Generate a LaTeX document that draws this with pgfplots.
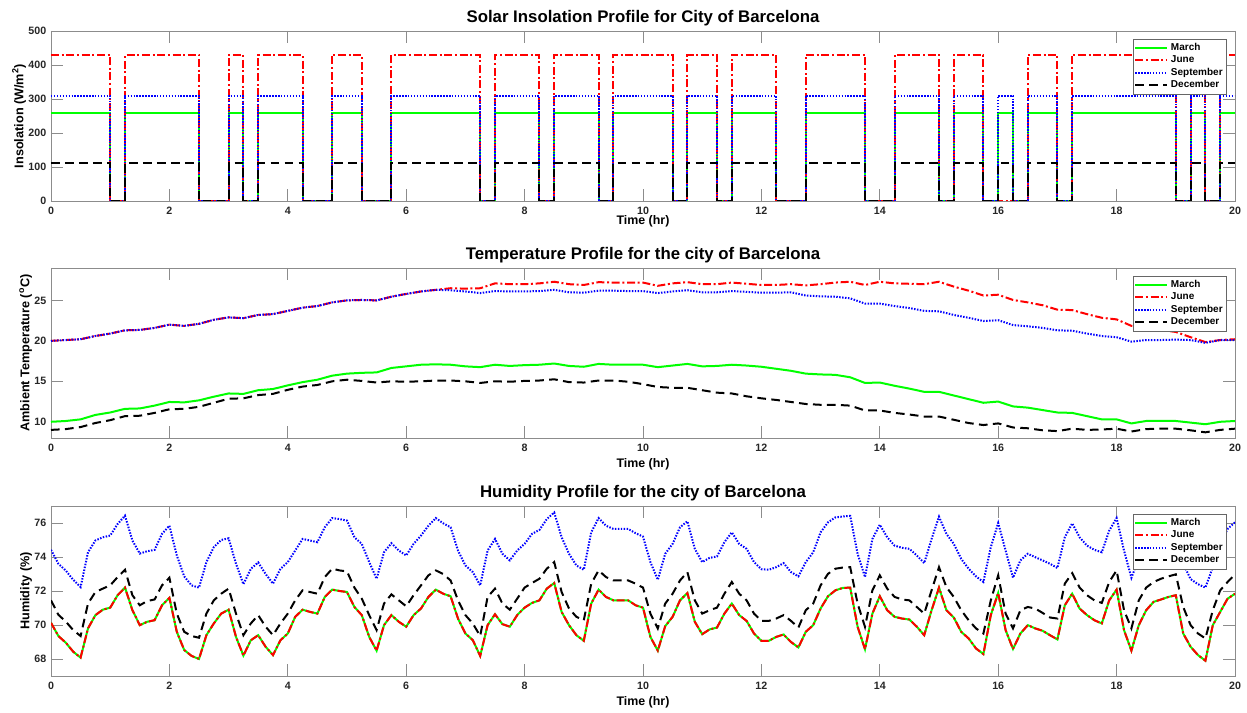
\documentclass[border=0pt]{standalone}
\usepackage{fontspec}
\setmainfont{Liberation Sans}
\usepackage{pgfplots}
\pgfplotsset{compat=1.18}
\usepackage{pgfplotstable}

\definecolor{mgreen}{rgb}{0,1,0}
\definecolor{axgray}{gray}{0.55}
\definecolor{tickgray}{gray}{0.15}

\pgfplotstableread{
t mar jun sep dec
0 260 430 310 112
1 0 0 0 0
1.25 260 430 310 112
2.5 0 0 0 0
3 260 430 310 112
3.25 0 0 0 0
3.5 260 430 310 112
4.25 0 0 0 0
4.75 260 430 310 112
5.25 0 0 0 0
5.75 260 430 310 112
7.25 0 0 0 0
7.5 260 430 310 112
8.25 0 0 0 0
8.5 260 430 310 112
9.25 0 0 0 0
9.5 260 430 310 112
10.5 0 0 0 0
10.75 260 430 310 112
11.25 0 0 0 0
11.5 260 430 310 112
12.25 0 0 0 0
12.75 260 430 310 112
13.75 0 0 0 0
14.25 260 430 310 112
15 0 0 0 0
15.25 260 430 310 112
15.75 0 0 0 0
16 260 0 310 112
16.25 0 0 0 0
16.5 260 430 310 112
17 0 0 0 0
17.25 260 430 310 112
19 0 0 0 0
19.25 260 430 310 112
19.5 0 0 0 0
19.75 260 430 310 112
20 260 430 310 112
}\insol

\pgfplotstableread{
t mar jun sep dec
0 10.0 20.0 20.0 9.0
0.25 10.1 20.1 20.1 9.1
0.5 10.3 20.2 20.2 9.35
0.75 10.85 20.6 20.6 9.85
1 11.15 20.9 20.9 10.2
1.25 11.6 21.3 21.3 10.7
1.5 11.65 21.35 21.35 10.75
1.75 12.0 21.6 21.6 11.1
2 12.45 22.0 22.0 11.55
2.25 12.4 21.85 21.85 11.6
2.5 12.65 22.1 22.1 11.85
2.75 13.1 22.6 22.6 12.35
3 13.5 22.9 22.9 12.85
3.25 13.45 22.8 22.8 12.9
3.5 13.9 23.2 23.2 13.3
3.75 14.05 23.3 23.3 13.45
4 14.5 23.7 23.7 13.95
4.25 14.9 24.1 24.1 14.35
4.5 15.2 24.3 24.3 14.55
4.75 15.7 24.75 24.75 15.0
5 15.95 25.0 25.0 15.2
5.25 16.05 25.05 25.05 15.05
5.5 16.1 25.0 25.0 14.85
5.75 16.65 25.45 25.45 15.0
6 16.85 25.8 25.8 14.95
6.25 17.05 26.1 26.1 15.0
6.5 17.1 26.3 26.3 15.1
6.75 17.05 26.5 26.25 15.1
7 16.85 26.45 26.1 15.0
7.25 16.75 26.5 25.9 14.8
7.5 17.05 27.1 26.15 15.0
7.75 16.9 27.0 26.1 14.95
8 17.0 27.0 26.1 15.05
8.25 17.05 27.1 26.15 15.1
8.5 17.2 27.3 26.3 15.25
8.75 16.9 27.0 26.0 14.9
9 16.8 26.9 25.95 14.85
9.25 17.15 27.25 26.2 15.1
9.5 17.05 27.2 26.2 15.1
9.75 17.05 27.2 26.15 14.95
10 17.05 27.2 26.15 14.65
10.25 16.75 26.8 25.9 14.3
10.5 16.95 27.1 26.1 14.2
10.75 17.15 27.25 26.25 14.2
11 16.85 27.0 26.0 13.9
11.25 16.9 27.0 26.0 13.6
11.5 17.05 27.2 26.15 13.5
11.75 16.95 27.05 26.05 13.15
12 16.8 26.9 25.95 12.9
12.25 16.55 26.9 25.95 12.7
12.5 16.3 27.0 26.0 12.45
12.75 15.95 26.85 25.6 12.2
13 15.85 27.0 25.5 12.1
13.25 15.8 27.2 25.45 12.1
13.5 15.5 27.3 25.25 12.0
13.75 14.8 26.9 24.6 11.4
14 14.85 27.3 24.6 11.4
14.25 14.45 27.1 24.3 11.1
14.5 14.1 27.05 24.05 10.9
14.75 13.7 27.0 23.7 10.65
15 13.7 27.3 23.65 10.65
15.25 13.25 26.7 23.2 10.25
15.5 12.8 26.2 22.85 9.85
15.75 12.35 25.6 22.45 9.6
16 12.5 25.7 22.55 9.8
16.25 11.9 25.05 21.95 9.3
16.5 11.75 24.75 21.8 9.2
16.75 11.45 24.4 21.6 8.95
17 11.15 23.85 21.3 8.85
17.25 11.1 23.8 21.25 9.15
17.5 10.7 23.3 20.9 9.0
17.75 10.3 22.85 20.6 9.05
18 10.3 22.65 20.45 9.15
18.25 9.8 21.85 19.9 8.8
18.5 10.1 21.55 20.1 9.1
18.75 10.1 21.35 20.1 9.15
19 10.1 21.1 20.15 9.15
19.25 9.9 20.45 20.1 8.95
19.5 9.7 19.85 19.75 8.7
19.75 10.0 20.1 20.1 9.0
20 10.1 20.2 20.1 9.15
}\temp

\pgfplotstableread{
t mar sep dec
0 70.13 74.42 71.45
0.125 69.35 73.6 70.6
0.25 68.96 73.2 70.2
0.375 68.43 72.66 69.7
0.5 68.08 72.23 69.35
0.625 69.8 74.28 71.26
0.75 70.58 74.97 71.94
0.875 70.9 75.16 72.14
1 71.02 75.26 72.33
1.125 71.75 75.94 72.82
1.25 72.2 76.43 73.25
1.375 70.87 74.97 71.75
1.5 69.99 74.2 71.16
1.625 70.19 74.34 71.41
1.75 70.28 74.42 71.5
1.875 71.16 75.36 72.33
2 71.6 75.84 72.78
2.125 69.6 74.09 70.67
2.25 68.53 72.86 69.6
2.375 68.18 72.33 69.35
2.5 68.0 72.2 69.25
2.625 69.4 73.7 70.67
2.75 70.09 74.58 71.45
2.875 70.67 75.0 71.84
3 70.9 75.1 72.14
3.125 69.3 73.6 70.67
3.25 68.2 72.4 69.4
3.375 69.1 73.3 70.09
3.5 69.4 73.68 70.58
3.625 68.72 73.0 69.9
3.75 68.23 72.43 69.4
3.875 69.1 73.3 70.09
4 69.5 73.7 70.67
4.125 70.48 74.38 71.45
4.25 70.9 75.06 72.04
4.375 70.77 74.97 71.94
4.5 70.67 74.87 71.84
4.625 71.65 75.75 72.82
4.75 72.08 76.29 73.31
4.875 72.0 76.23 73.21
5 71.94 76.14 73.15
5.125 71.06 75.16 72.2
5.25 70.58 74.77 71.55
5.375 69.3 73.7 70.58
5.5 68.49 72.72 69.7
5.625 69.99 74.28 71.26
5.75 70.58 74.81 71.8
5.875 70.19 74.38 71.45
6 69.9 74.09 71.1
6.125 70.58 74.77 71.75
6.25 70.97 75.26 72.33
6.375 71.65 75.84 72.92
6.5 72.08 76.29 73.21
6.625 71.84 75.98 73.0
6.75 71.69 75.75 72.62
6.875 70.38 74.38 71.45
7 69.5 73.5 70.58
7.125 69.11 73.11 70.09
7.25 68.18 72.33 69.35
7.375 69.99 74.38 71.65
7.5 70.63 75.06 72.14
7.625 70.05 74.19 71.26
7.75 69.9 73.8 70.9
7.875 70.58 74.38 71.55
8 71.02 74.77 72.2
8.125 71.3 75.36 72.47
8.25 71.45 75.59 72.72
8.375 72.14 76.23 73.31
8.5 72.47 76.62 73.7
8.625 70.77 75.16 71.94
8.75 69.99 74.19 70.97
8.875 69.4 73.5 70.48
9 69.07 73.25 70.28
9.125 71.26 75.45 72.43
9.25 72.08 76.29 73.21
9.375 71.65 75.84 72.82
9.5 71.45 75.65 72.62
9.625 71.45 75.65 72.62
9.75 71.45 75.65 72.62
9.875 71.16 75.4 72.43
10 71.02 75.2 72.2
10.125 69.3 73.7 70.67
10.25 68.49 72.66 69.8
10.375 69.93 74.19 71.26
10.5 70.48 74.77 71.84
10.625 71.45 75.75 72.62
10.75 71.88 76.1 73.11
10.875 70.19 74.48 71.45
11 69.46 73.7 70.67
11.125 69.74 73.95 70.87
11.25 69.85 74.03 71.02
11.375 70.67 74.87 71.84
11.5 71.26 75.45 72.53
11.625 70.58 74.77 71.84
11.75 70.24 74.48 71.45
11.875 69.5 73.7 70.67
12 69.07 73.28 70.24
12.125 69.07 73.25 70.24
12.25 69.3 73.4 70.38
12.375 69.44 73.64 70.58
12.5 69.0 73.11 70.24
12.625 68.68 72.86 69.85
12.75 69.6 73.7 70.87
12.875 69.99 74.28 71.26
13 70.97 75.45 72.33
13.125 71.69 76.04 73.01
13.25 72.04 76.33 73.31
13.375 72.18 76.38 73.38
13.5 72.2 76.42 73.4
13.625 69.9 74.19 71.26
13.75 68.57 72.82 69.89
13.875 70.67 75.06 72.04
14 71.69 75.9 72.92
14.125 70.87 75.16 72.14
14.25 70.48 74.67 71.65
14.375 70.38 74.54 71.5
14.5 70.32 74.48 71.45
14.625 69.9 74.09 71.06
14.75 69.4 73.64 70.67
14.875 70.87 75.06 72.04
15 72.2 76.37 73.4
15.125 70.87 75.36 72.23
15.25 70.44 74.77 71.65
15.375 69.6 73.89 70.87
15.5 69.21 73.31 70.28
15.625 68.62 72.86 69.8
15.75 68.29 72.53 69.5
15.875 70.58 74.58 71.45
16 71.88 76.0 72.92
16.125 69.7 74.38 70.67
16.25 68.59 72.78 69.8
16.375 69.5 73.8 70.87
16.5 69.99 74.19 71.06
16.625 69.8 73.99 70.97
16.75 69.66 73.8 70.71
16.875 69.4 73.6 70.44
17 69.15 73.35 70.38
17.125 71.16 75.16 72.43
17.25 71.84 75.98 73.05
17.375 70.97 75.16 72.2
17.5 70.58 74.67 71.75
17.625 70.28 74.42 71.45
17.75 70.09 74.28 71.3
17.875 71.45 75.55 72.53
18 72.08 76.29 73.21
18.125 69.7 74.38 70.87
18.25 68.49 72.78 69.8
18.375 69.99 73.9 71.45
18.5 70.87 74.5 72.2
18.625 71.36 74.8 72.53
18.75 71.5 75.0 72.72
18.875 71.65 75.1 72.86
19 71.75 75.2 72.98
19.125 69.5 73.6 71.06
19.25 68.72 72.7 69.99
19.375 68.23 72.4 69.5
19.5 67.9 72.2 69.21
19.625 69.99 73.4 70.87
19.75 70.77 74.8 72.04
19.875 71.55 75.65 72.53
20 71.84 76.04 72.98
}\humid

\pgfplotsset{
  panel/.style={
    scale only axis, width=888pt, height=127.5pt,
    xmin=0, xmax=20, xtick={0,2,...,20},
    axis line style={draw=axgray, line width=0.6pt},
    every tick/.style={draw=axgray, line width=0.6pt},
    major tick length=9pt, tick align=inside,
    xtick pos=both, ytick pos=both,
    ticklabel style={font=\bfseries\fontsize{8}{9}\selectfont, text=tickgray},
    xticklabel style={yshift=-1pt},
    /pgf/number format/assume math mode=true,
    title style={font=\bfseries\fontsize{12.6}{14}\selectfont, yshift=-6pt},
    xlabel style={font=\bfseries\fontsize{9.3}{11}\selectfont, yshift=1.5pt},
    ylabel style={font=\bfseries\fontsize{9.5}{11}\selectfont, yshift=-5pt},
    xlabel={Time (hr)},
    legend style={at={(1,1)}, anchor=north east, xshift=-6pt, yshift=-6pt,
      font=\bfseries\fontsize{7.5}{8.5}\selectfont, draw=black!60, line width=0.5pt,
      inner sep=1pt, row sep=-1.5pt},
    legend cell align=left,
    legend image code/.code={\draw[##1] (0pt,0pt) -- (24pt,0pt);},
  },
  smar/.style={draw=mgreen, line width=1.5pt, solid},
  sjun/.style={draw=red, line width=1.5pt, dash pattern=on 6pt off 2pt on 1.5pt off 2pt},
  ssep/.style={draw=blue, line width=1.5pt, dash pattern=on 1.1pt off 1.1pt},
  sdec/.style={draw=black, line width=1.5pt, dash pattern=on 6.5pt off 4pt},
}

\begin{document}
\begin{tikzpicture}
\path[use as bounding box] (0,0) rectangle (935.25pt,534.75pt);

\begin{axis}[panel, at={(38.25pt,384pt)}, anchor=south west,
  ymin=0, ymax=500, ytick={0,100,...,500},
  xlabel style={yshift=4.5pt},
  title={Solar Insolation Profile for City of Barcelona},
  ylabel={Insolation (W/m\textsuperscript{2})}]
\addplot[smar, const plot] table[x=t,y=mar] {\insol};
\addplot[sjun, const plot] table[x=t,y=jun] {\insol};
\addplot[ssep, const plot] table[x=t,y=sep] {\insol};
\addplot[sdec, const plot] table[x=t,y=dec] {\insol};
\legend{March,June,September,December}
\end{axis}

\begin{axis}[panel, at={(38.25pt,206.25pt)}, anchor=south west,
  ymin=8, ymax=29, ytick={10,15,20,25},
  title={Temperature Profile for the city of Barcelona},
  ylabel={Ambient Temperature (\textsuperscript{o}C)}]
\addplot[smar] table[x=t,y=mar] {\temp};
\addplot[sjun] table[x=t,y=jun] {\temp};
\addplot[ssep] table[x=t,y=sep] {\temp};
\addplot[sdec] table[x=t,y=dec] {\temp};
\legend{March,June,September,December}
\end{axis}

\begin{axis}[panel, at={(38.25pt,27.75pt)}, anchor=south west,
  ymin=67, ymax=77, ytick={68,70,...,76},
  title={Humidity Profile for the city of Barcelona},
  ylabel={Humidity (\%)}]
\addplot[smar] table[x=t,y=mar] {\humid};
\addplot[sjun] table[x=t,y=mar] {\humid};
\addplot[ssep] table[x=t,y=sep] {\humid};
\addplot[sdec] table[x=t,y=dec] {\humid};
\legend{March,June,September,December}
\end{axis}
\end{tikzpicture}
\end{document}
